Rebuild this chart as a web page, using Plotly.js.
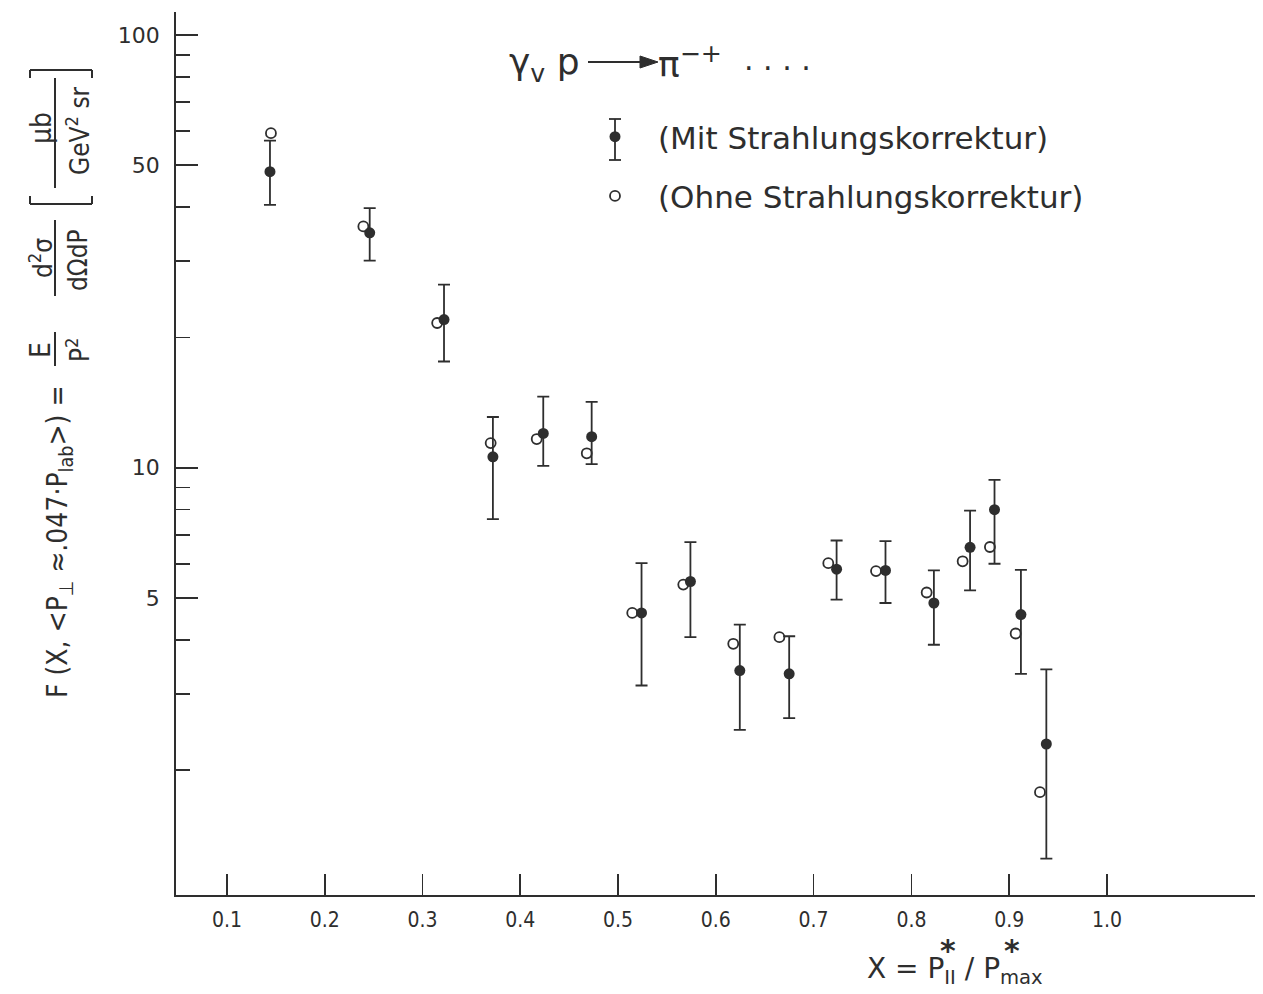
<!DOCTYPE html>
<html>
<head>
<meta charset="utf-8">
<script src="https://cdn.plot.ly/plotly-3.0.1.min.js"></script>
<style>html,body{margin:0;padding:0;background:#fff;}</style>
</head>
<body>
<div id="chart" style="width:1263px;height:994px;"></div>
<script>
// ---- data ----
const xClosed = [0.144, 0.246, 0.322, 0.372, 0.4235, 0.473, 0.524, 0.574, 0.6245, 0.675, 0.7235, 0.7735, 0.823, 0.86, 0.885, 0.912, 0.938];
const yClosed = [48.3, 34.9, 22.0, 10.6, 12.0, 11.8, 4.62, 5.46, 3.40, 3.34, 5.83, 5.79, 4.87, 6.55, 8.0, 4.58, 2.30];
const yUpper  = [57.0, 39.8, 26.5, 13.1, 14.6, 14.2, 6.02, 6.73, 4.34, 4.08, 6.79, 6.77, 5.79, 7.96, 9.38, 5.81, 3.42];
const yLower  = [40.5, 30.1, 17.6, 7.61, 10.1, 10.2, 3.14, 4.06, 2.48, 2.64, 4.96, 4.87, 3.90, 5.21, 6.0, 3.34, 1.25];
const xOpen = [0.145, 0.2395, 0.315, 0.3697, 0.4168, 0.468, 0.5145, 0.5667, 0.6178, 0.665, 0.715, 0.7638, 0.8156, 0.8524, 0.8803, 0.9066, 0.9315];
const yOpen = [59.3, 36.1, 21.6, 11.4, 11.65, 10.8, 4.62, 5.37, 3.92, 4.06, 6.02, 5.77, 5.15, 6.08, 6.56, 4.14, 1.78];
const xTickVals = [0.1, 0.2, 0.3, 0.4, 0.5, 0.6, 0.7, 0.8, 0.9, 1.0];
const xTickText = ['0.1', '0.2', '0.3', '0.4', '0.5', '0.6', '0.7', '0.8', '0.9', '1.0'];
const yTickVals = [5, 10, 50, 100];
const yTickText = ['5', '10', '50', '100'];
const yMinorVals = [2, 3, 4, 6, 7, 8, 9, 20, 30, 40, 60, 70, 80, 90];
const seriesNames = ['(Mit Strahlungskorrektur)', '(Ohne Strahlungskorrektur)'];

const errPlus = yUpper.map((u, i) => u - yClosed[i]);
const errMinus = yLower.map((l, i) => yClosed[i] - l);

const INK = '#2e2e2e';
const FONT_C = 'DejaVu Sans Condensed, Liberation Sans Narrow, DejaVu Sans, sans-serif';
const FONT = 'DejaVu Sans, Liberation Sans, sans-serif';

// layout geometry helpers (pixel -> paper)
const L = 176, R = 1255, T = 12, B = 895;
const px = v => (v - L) / (R - L);
const py = v => (B - v) / (B - T);

const traces = [
  {
    x: xClosed, y: yClosed, type: 'scatter', mode: 'markers', name: seriesNames[0],
    legendgroup: 'a',
    marker: {symbol: 'circle', size: 11, color: INK},
    error_y: {type: 'data', symmetric: false, array: errPlus, arrayminus: errMinus,
              color: INK, thickness: 1.8, width: 6}
  },
  {
    x: xOpen, y: yOpen, type: 'scatter', mode: 'markers', name: seriesNames[1],
    legendgroup: 'b',
    marker: {symbol: 'circle-open', size: 10, color: INK, line: {width: 1.8, color: INK}}
  }
];

function ann(text, x, y, size, family, opts) {
  return Object.assign({text: text, x: px(x), y: py(y), xref: 'paper', yref: 'paper',
    xanchor: 'center', yanchor: 'middle', showarrow: false,
    font: {family: family || FONT, size: size, color: INK}}, opts || {});
}
function rot(text, x, y, size) { return ann(text, x, y, size, FONT_C, {textangle: -90}); }

const annotations = [
  ann('γ<sub>v</sub> p', 582, 64, 36, FONT, {xanchor: 'right'}),
  ann('π<sup>−+</sup>', 656, 62, 36, FONT, {xanchor: 'left'}),
  ann('. . . .', 742, 60, 30, FONT, {xanchor: 'left'}),
  ann('X = P<sub>II</sub> / P<sub>max</sub>', 955, 970, 28, FONT),
  ann('<b>*</b>', 948, 950, 30, FONT),
  ann('<b>*</b>', 1012, 950, 30, FONT),
  rot('F (X, &lt;P<sub>⊥</sub> ≈.047·P<sub>lab</sub>&gt;) =', 59, 542, 28),
  rot('E', 41, 350, 28),
  rot('P<sup>2</sup>', 78, 350, 26),
  rot('d<sup>2</sup>σ', 41, 258, 26),
  rot('dΩdP', 78, 260, 26),
  rot('μb', 41, 128, 28),
  rot('GeV<sup>2</sup> sr', 78, 131, 26)
];

const line = (x0, y0, x1, y1, w) => ({type: 'line', xref: 'paper', yref: 'paper',
  x0: px(x0), y0: py(y0), x1: px(x1), y1: py(y1), line: {color: INK, width: w || 2}});

const shapes = [
  // reaction arrow
  line(588, 62, 642, 62, 2),
  {type: 'path', xref: 'paper', yref: 'paper', fillcolor: INK, line: {color: INK, width: 1},
   path: `M ${px(640)} ${py(56)} L ${px(658)} ${py(62)} L ${px(640)} ${py(68)} Z`},
  // fraction bars of y title
  line(55, 332, 55, 366, 2),
  line(55, 220, 55, 296, 2),
  line(55, 78, 55, 188, 2),
  // brackets
  line(30, 204, 92, 204, 2), line(30, 204, 30, 196, 2), line(92, 204, 92, 196, 2),
  line(30, 70, 92, 70, 2), line(30, 70, 30, 78, 2), line(92, 70, 92, 78, 2),
  // legend error bar for the corrected series
  line(615, 119, 615, 160, 1.8), line(609, 119, 621, 119, 1.8), line(609, 160, 621, 160, 1.8)
];

const layout = {
  width: 1263, height: 994,
  margin: {l: L, r: 1263 - R, t: T, b: 994 - B, pad: 0},
  paper_bgcolor: '#fff', plot_bgcolor: '#fff',
  font: {family: FONT, color: INK},
  showlegend: true,
  legend: {x: px(572), y: py(110), xanchor: 'left', yanchor: 'top',
           bgcolor: 'rgba(0,0,0,0)', font: {family: FONT, size: 31, color: INK},
           traceorder: 'grouped', tracegroupgap: 16, itemwidth: 76},
  xaxis: {
    type: 'linear', range: [0.0479, 1.1514],
    tickmode: 'array', tickvals: xTickVals, ticktext: xTickText,
    ticks: 'inside', ticklen: 21, tickwidth: 1.6, tickcolor: INK,
    showline: true, linecolor: INK, linewidth: 1.8,
    showgrid: false, zeroline: false,
    tickfont: {family: FONT_C, size: 21, color: INK}, ticklabelstandoff: 5
  },
  yaxis: {
    type: 'log', range: [Math.log10(1.03), 2.053],
    tickmode: 'array', tickvals: yTickVals, ticktext: yTickText,
    ticks: 'inside', ticklen: 22, tickwidth: 1.6, tickcolor: INK,
    minor: {tickmode: 'array', tickvals: yMinorVals, ticks: 'inside', ticklen: 14,
            tickwidth: 1.6, tickcolor: INK, showgrid: false},
    showline: true, linecolor: INK, linewidth: 1.8,
    showgrid: false, zeroline: false,
    tickfont: {family: FONT, size: 22, color: INK}, ticklabelstandoff: 10
  },
  annotations: annotations,
  shapes: shapes
};

Plotly.newPlot('chart', traces, layout, {displayModeBar: false, staticPlot: true});
</script>
</body>
</html>
